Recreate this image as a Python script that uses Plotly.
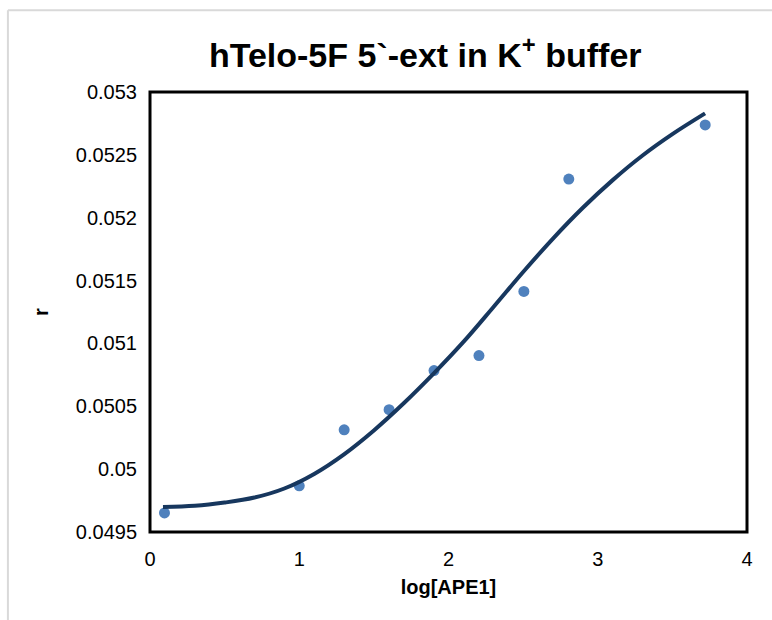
import plotly.graph_objects as go

# measured points
log_ape1 = [0.097, 1.0, 1.301, 1.602, 1.903, 2.204, 2.505, 2.806, 3.72]
r_values = [0.049652, 0.049867, 0.050313, 0.050473, 0.050784, 0.050903, 0.051414, 0.052307, 0.052738]

# fitted curve
fit_x = [0.087, 0.3, 0.5, 0.7, 0.9, 1.1, 1.3, 1.5, 1.7, 1.9,
         2.1, 2.3, 2.5, 2.7, 2.9, 3.1, 3.3, 3.5, 3.719]
fit_y = [0.049699, 0.049708, 0.049734, 0.049774, 0.049846, 0.049962, 0.050118, 0.050308,
         0.050524, 0.050760, 0.051012, 0.051288, 0.051568, 0.051834, 0.052079, 0.052299,
         0.052495, 0.052665, 0.052830]

y_tickvals = [0.0495, 0.05, 0.0505, 0.051, 0.0515, 0.052, 0.0525, 0.053]
y_ticktext = ["0.0495", "0.05", "0.0505", "0.051", "0.0515", "0.052", "0.0525", "0.053"]
x_tickvals = [0, 1, 2, 3, 4]
x_ticktext = ["0", "1", "2", "3", "4"]

FONT = "Liberation Sans, Arial, sans-serif"

fig = go.Figure()
fig.add_trace(go.Scatter(x=log_ape1, y=r_values, mode="markers",
                         marker=dict(color="#4f81bd", size=11), showlegend=False))
fig.add_trace(go.Scatter(x=fit_x, y=fit_y, mode="lines", line_shape="spline",
                         line=dict(color="#17375e", width=4), showlegend=False))

fig.update_layout(
    width=772, height=620,
    margin=dict(l=150, r=25, t=92, b=88),
    paper_bgcolor="white", plot_bgcolor="white",
    font=dict(family=FONT, color="black"),
    title=dict(text="<b>hTelo-5F 5`-ext in K<sup>+</sup> buffer</b>",
               x=0.461, xanchor="center", y=0.911, yanchor="middle",
               xref="paper",
               font=dict(family=FONT, size=34, color="black")),
    xaxis=dict(range=[0, 4], tickvals=x_tickvals, ticktext=x_ticktext,
               showgrid=False, zeroline=False, showline=False,
               ticks="outside", ticklen=9, tickcolor="rgba(0,0,0,0)",
               tickfont=dict(size=20, color="black"),
               title=dict(text="<b>log[APE1]</b>", font=dict(size=20, color="black"), standoff=10)),
    yaxis=dict(range=[0.0495, 0.053], tickvals=y_tickvals, ticktext=y_ticktext,
               showgrid=False, zeroline=False, showline=False,
               ticks="outside", ticklen=8, tickcolor="rgba(0,0,0,0)",
               tickfont=dict(size=20, color="black"),
               title=dict(text="<b>r</b>", font=dict(size=20, color="black"), standoff=21)),
)

# thick plot frame
fig.add_shape(type="rect", xref="paper", yref="paper", x0=0, y0=0, x1=1, y1=1,
              line=dict(color="black", width=3), layer="above")
# outer light-grey chart border (left and top)
fig.add_shape(type="line", xref="paper", yref="paper", x0=-0.238, x1=-0.238, y0=-0.3, y1=1.186,
              line=dict(color="#d9d9d9", width=2))
fig.add_shape(type="line", xref="paper", yref="paper", x0=-0.238, x1=1.1, y0=1.186, y1=1.186,
              line=dict(color="#d9d9d9", width=2))

fig.write_html("out.html")
